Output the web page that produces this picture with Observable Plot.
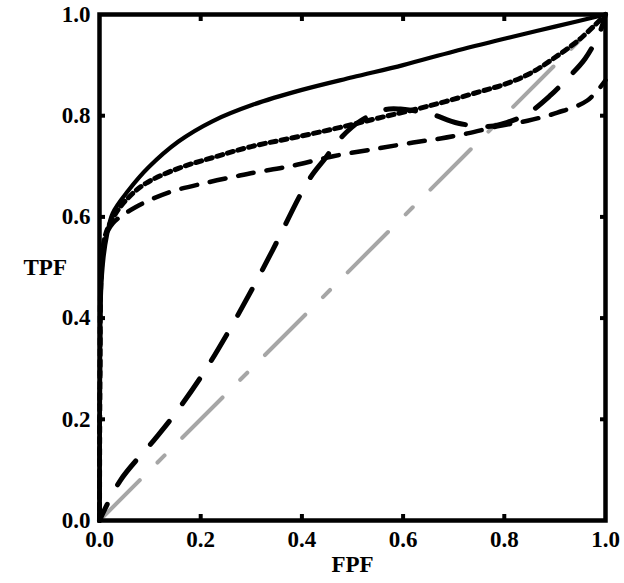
<!DOCTYPE html>
<html>
<head>
<meta charset="utf-8">
<script src="https://cdn.jsdelivr.net/npm/d3@7"></script>
<script src="https://cdn.jsdelivr.net/npm/@observablehq/plot@0.6"></script>
<style>
  html, body { margin: 0; padding: 0; background: #fff; }
</style>
</head>
<body>
<div id="chart"></div>
<script>
// Tick values
const tickValues = [0, 0.2, 0.4, 0.6, 0.8, 1.0];
const innerTicks = [0.2, 0.4, 0.6, 0.8];

// Solid curve
const solidFPF = [0, 0.001, 0.003, 0.008, 0.015, 0.026, 0.057, 0.097, 0.156, 0.223, 0.304, 0.40, 0.50, 0.60, 0.70, 0.80, 0.90, 1.0];
const solidTPF = [0, 0.25, 0.45, 0.52, 0.565, 0.607, 0.652, 0.698, 0.749, 0.789, 0.822, 0.851, 0.876, 0.900, 0.927, 0.952, 0.976, 1.0];

// Dotted curve
const dottedFPF = [0, 0.001, 0.004, 0.012, 0.032, 0.057, 0.091, 0.156, 0.223, 0.30, 0.40, 0.476, 0.55, 0.654, 0.75, 0.80, 0.85, 0.90, 0.95, 1.0];
const dottedTPF = [0, 0.3, 0.5, 0.565, 0.607, 0.638, 0.666, 0.696, 0.717, 0.739, 0.76, 0.777, 0.795, 0.82, 0.847, 0.862, 0.883, 0.915, 0.952, 1.0];

// Medium-dashed curve
const dashedFPF = [0, 0.001, 0.004, 0.012, 0.026, 0.071, 0.136, 0.209, 0.269, 0.308, 0.377, 0.462, 0.549, 0.62, 0.674, 0.727, 0.792, 0.846, 0.905, 0.964, 1.0];
const dashedTPF = [0, 0.3, 0.5, 0.56, 0.587, 0.619, 0.648, 0.667, 0.68, 0.688, 0.70, 0.72, 0.735, 0.747, 0.755, 0.765, 0.78, 0.79, 0.806, 0.83, 0.87];

// Long-dashed curve
const longFPF = [0, 0.041, 0.107, 0.144, 0.2, 0.253, 0.302, 0.342, 0.413, 0.447, 0.472, 0.516, 0.565, 0.595, 0.62, 0.654, 0.709, 0.773, 0.806, 0.846, 0.891, 0.921, 0.96, 0.99, 1.0];
const longTPF = [0, 0.079, 0.158, 0.204, 0.283, 0.37, 0.458, 0.534, 0.672, 0.717, 0.751, 0.79, 0.812, 0.813, 0.81, 0.804, 0.785, 0.779, 0.787, 0.804, 0.84, 0.87, 0.913, 0.968, 1.0];

// Chance diagonal
const diagFPF = [0, 1];
const diagTPF = [0, 1];

const zip = (xs, ys) => xs.map((x, i) => ({x, y: ys[i]}));
const solid = zip(solidFPF, solidTPF);
const dotted = zip(dottedFPF, dottedTPF);
const dashed = zip(dashedFPF, dashedTPF);
const longd = zip(longFPF, longTPF);
const diag = zip(diagFPF, diagTPF);

const fmt = d3.format(".1f");
const tickStroke = 4;

const chart = Plot.plot({
  width: 624,
  height: 583,
  marginLeft: 99,
  marginRight: 19,
  marginTop: 14,
  marginBottom: 63,
  style: {
    fontFamily: "'Liberation Serif', 'Times New Roman', serif",
    fontWeight: "bold",
    fontSize: "23px",
    color: "#000",
    background: "#fff"
  },
  x: {domain: [0, 1]},
  y: {domain: [0, 1]},
  marks: [
    Plot.line(diag, {x: "x", y: "y", stroke: "#a6a6a6", strokeWidth: 4, strokeDasharray: "57,25,10,25"}),
    Plot.line(dashed, {x: "x", y: "y", curve: "catmull-rom", stroke: "#000", strokeWidth: 4.5, strokeDasharray: "16,13"}),
    Plot.line(dotted, {x: "x", y: "y", curve: "catmull-rom", stroke: "#000", strokeWidth: 5, strokeDasharray: "6,5"}),
    Plot.line(longd, {x: "x", y: "y", curve: "catmull-rom", stroke: "#000", strokeWidth: 5, strokeDasharray: "30,22", strokeDashoffset: 12}),
    Plot.line(solid, {x: "x", y: "y", curve: "catmull-rom", stroke: "#000", strokeWidth: 4.2}),
    // tick labels
    Plot.axisX({anchor: "bottom", ticks: tickValues, tickSize: 0, tickPadding: 10, tickFormat: fmt, label: null}),
    Plot.axisY({anchor: "left", ticks: tickValues, tickSize: 0, tickPadding: 9, tickFormat: fmt, label: null}),
    // inward ticks on all four sides
    Plot.axisX({anchor: "bottom", ticks: innerTicks, tickSize: -6, strokeWidth: tickStroke, tickFormat: () => "", label: null}),
    Plot.axisX({anchor: "top", ticks: innerTicks, tickSize: -6, strokeWidth: tickStroke, tickFormat: () => "", label: null}),
    Plot.axisY({anchor: "left", ticks: innerTicks, tickSize: -6, strokeWidth: tickStroke, tickFormat: () => "", label: null}),
    Plot.axisY({anchor: "right", ticks: innerTicks, tickSize: -6, strokeWidth: tickStroke, tickFormat: () => "", label: null}),
    Plot.frame({stroke: "#000", strokeWidth: 4.5}),
    // axis titles
    Plot.text(["FPF"], {frameAnchor: "bottom", dy: 51, text: d => d, fill: "#000"}),
    Plot.text(["TPF"], {frameAnchor: "left", dx: -76, text: d => d, fill: "#000"})
  ]
});

document.getElementById("chart").appendChild(chart);
</script>
</body>
</html>
